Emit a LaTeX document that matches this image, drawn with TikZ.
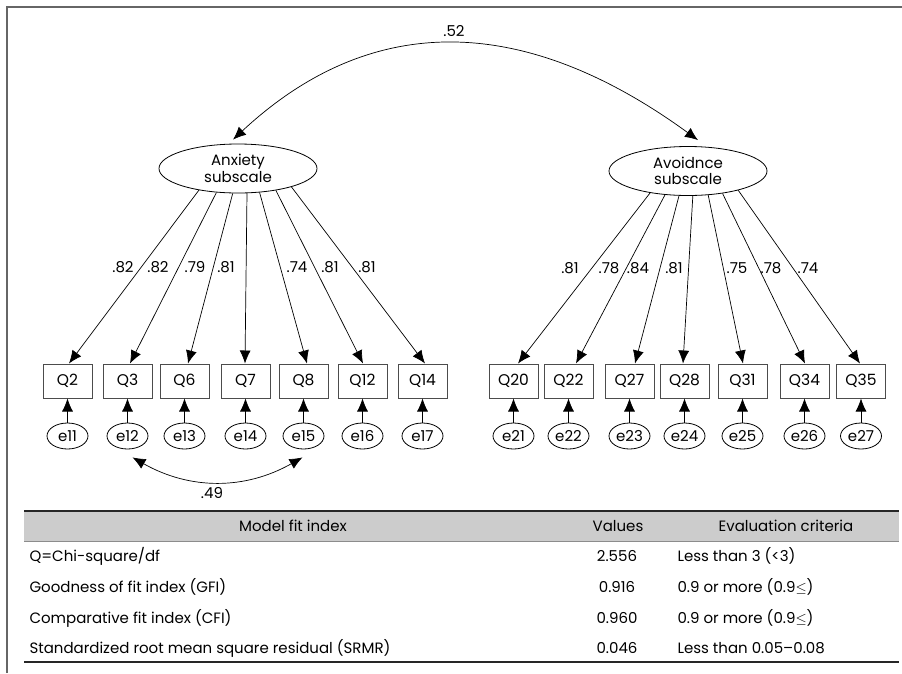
\documentclass[tikz,border=0pt]{standalone}
\usepackage{fontspec}
\setmainfont{Poppins}
\usetikzlibrary{arrows.meta,shapes.geometric}
\begin{document}
\begin{tikzpicture}[x=1pt,y=-1pt,
    every node/.style={font=\fontsize{15}{17}\selectfont},
    latent/.style={draw,line width=0.8pt,ellipse,minimum width=158pt,minimum height=49pt,inner sep=0pt,align=center,font=\fontsize{15}{16.5}\selectfont},
    item/.style={draw=black!70,line width=1pt,rectangle,minimum width=49pt,minimum height=34pt,inner sep=0pt,font=\fontsize{15.5}{17}\selectfont},
    err/.style={draw,line width=0.8pt,ellipse,minimum width=41pt,minimum height=26pt,inner sep=0pt},
    load/.style={-{Latex[length=13pt,width=11pt]},line width=0.7pt},
    cov/.style={{Latex[length=13pt,width=11pt]}-{Latex[length=13pt,width=11pt]},line width=0.7pt},
    cell/.style={font=\fontsize{15}{17}\selectfont}]
  \useasboundingbox (0,0) rectangle (902,673);
  % frame
  \draw[black!60,line width=1.2pt] (7,673) -- (7,7) -- (902,7);
  % latent factors
  \node[latent] (anx) at (238,168.5) {Anxiety\\subscale};
  \node[latent] (avo) at (688,171) {Avoidnce\\subscale};
  \draw[cov] ([xshift=-5pt,yshift=4pt]anx.north) .. controls (370,12) and (522,12) .. ([xshift=10pt,yshift=6pt]avo.north);
  \node (r52) at (454,31) {.52};
  % anxiety items
  \foreach \q/\e/\x/\a/\dx/\v/\lx in {2/11/67.5/-151/1.5/.82/123, 3/12/127.5/-132/2.5/.82/158,
      6/13/184.5/-102/3.5/.79/195, 7/14/245.5/-70/-0.5/.81/226, 8/15/303.5/-48/3.5/.74/297,
      12/16/362.5/-30/0.5/.81/330, 14/17/422.5/-19.5/2.5/.81/367}{
    \node[item] (q\q) at (\x,381) {Q\q};
    \node[err] (e\e) at (\x,436) {e\e};
    \draw[load] (anx.\a) -- ([xshift=\dx pt]q\q.north);
    \draw[load] (e\e) -- (q\q);
    \node (l\q) at (\lx,267) {\v};
  };
  % avoidance items
  \foreach \q/\e/\x/\a/\dx/\v/\lx in {20/21/513.5/-150/4.5/.81/570, 22/22/568.5/-134/7.5/.78/609,
      27/23/629.5/-110/5.5/.84/638, 28/24/684.5/-79/-1.5/.81/674, 31/25/742.5/-50/0.5/.75/737,
      34/26/804.5/-33/0.5/.78/771, 35/27/861/-21/-1/.74/808}{
    \node[item] (q\q) at (\x,381) {Q\q};
    \node[err] (e\e) at (\x,436) {e\e};
    \draw[load] (avo.\a) -- ([xshift=\dx pt]q\q.north);
    \draw[load] (e\e) -- (q\q);
    \node (l\q) at (\lx,268) {\v};
  };
  % error covariance
  \draw[cov] ([xshift=5pt,yshift=-8pt]e12.south) .. controls (190,490) and (245,490) .. ([xshift=-1pt,yshift=-8pt]e15.south);
  \node (r49) at (212,493) {.49};
  % fit table
  \fill[black!20] (24,511) rectangle (899,541);
  \draw[black!85,line width=1.5pt] (24,511) -- (899,511);
  \draw[black!45] (24,541.5) -- (899,541.5);
  \draw[black!85,line width=1.8pt] (24,662) -- (899,662);
  \node[cell] (h1) at (293,526) {Model fit index};
  \node[cell] (h2) at (618,526) {Values};
  \node[cell] (h3) at (786,526) {Evaluation criteria};
  \foreach \i/\y/\name/\val/\crit in {1/556/{Q=Chi-square/df}/2.556/{Less than 3 (<3)},
      2/587/{Goodness of fit index (GFI)}/0.916/{0.9 or more (0.9$\leq$)},
      3/618/{Comparative fit index (CFI)}/0.960/{0.9 or more (0.9$\leq$)},
      4/648/{Standardized root mean square residual (SRMR)}/0.046/{Less than 0.05--0.08}}{
    \node[cell,anchor=west] (n\i) at (26,\y) {\name};
    \node[cell] (v\i) at (617,\y) {\val};
    \node[cell,anchor=west] (c\i) at (674,\y) {\crit};
  };
\end{tikzpicture}
\end{document}
